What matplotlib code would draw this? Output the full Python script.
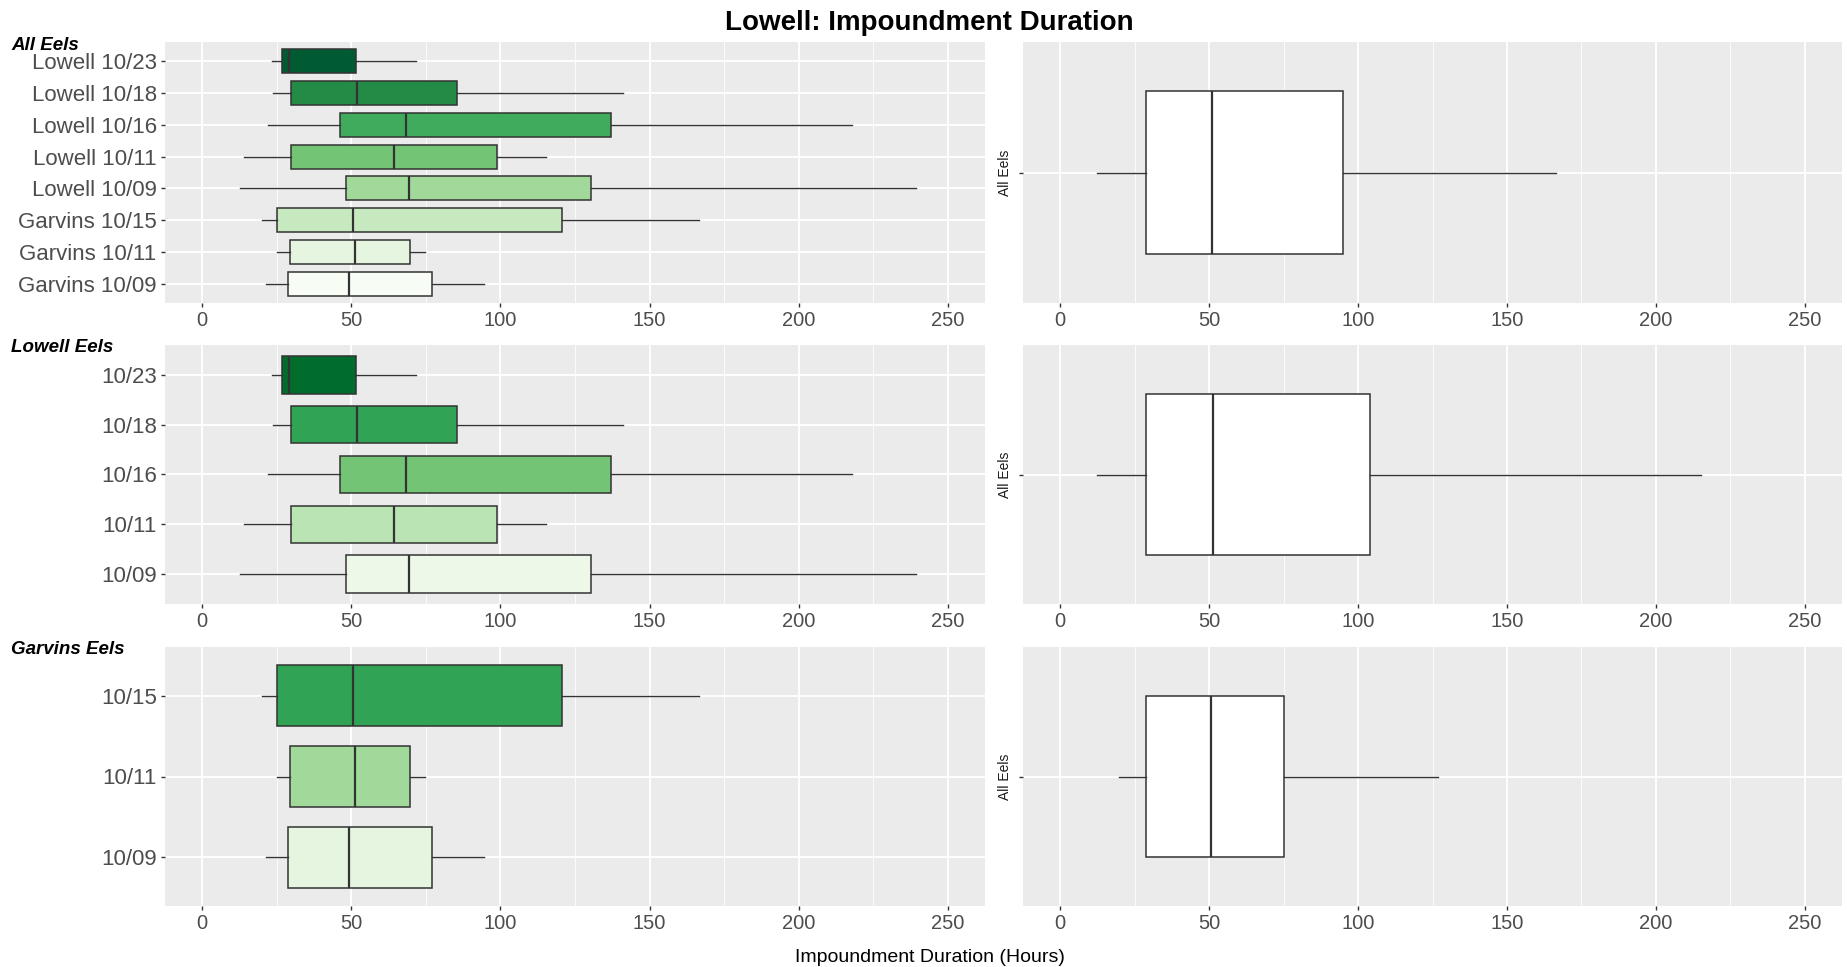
import matplotlib
matplotlib.use("Agg")
import matplotlib.pyplot as plt
from matplotlib.ticker import MultipleLocator

plt.rcParams["font.family"] = ["Liberation Sans", "DejaVu Sans"]

# ---- data: five-number summaries (lower whisker, Q1, median, Q3, upper whisker), hours ----
lowell_dates = ["10/09", "10/11", "10/16", "10/18", "10/23"]
lowell_wlo = [12.7, 14.0, 22.2, 23.7, 23.3]
lowell_q1 = [48.1, 29.7, 46.2, 29.7, 26.9]
lowell_med = [69.3, 64.2, 68.2, 51.9, 29.0]
lowell_q3 = [130.3, 99.0, 137.1, 85.4, 51.5]
lowell_whi = [239.2, 115.3, 218.0, 141.1, 71.8]

garvins_dates = ["10/09", "10/11", "10/15"]
garvins_wlo = [21.4, 25.0, 19.9]
garvins_q1 = [28.8, 29.5, 25.0]
garvins_med = [49.2, 51.3, 50.4]
garvins_q3 = [76.9, 69.5, 120.8]
garvins_whi = [94.5, 74.8, 166.6]

# pooled summaries for each group
all_pooled = [12.5, 28.8, 51.1, 95.0, 166.5]
lowell_pooled = [12.2, 28.8, 51.3, 104.1, 215.3]
garvins_pooled = [19.7, 28.8, 50.6, 75.1, 126.9]
pooled_label = "All Eels"

x_ticks = [0, 50, 100, 150, 200, 250]

# ColorBrewer "Greens" palettes
greens8 = ["#F7FCF5", "#E5F5E0", "#C7E9C0", "#A1D99B", "#74C476", "#41AB5D", "#238B45", "#005A32"]
greens5 = ["#EDF8E9", "#BAE4B3", "#74C476", "#31A354", "#006D2C"]
greens3 = ["#E5F5E0", "#A1D99B", "#31A354"]

W, H = 1847, 967
fig = plt.figure(figsize=(W / 100, H / 100), dpi=100)

EDGE = "#333333"
TXT = "#4D4D4D"


def px_axes(x0, y0, x1, y1):
    return fig.add_axes([x0 / W, 1 - y1 / H, (x1 - x0) / W, (y1 - y0) / H])


def make_stats(wlo, q1, med, q3, whi):
    return [dict(whislo=a, q1=b, med=c, q3=d, whishi=e, fliers=[])
            for a, b, c, d, e in zip(wlo, q1, med, q3, whi)]


def style(ax, n, labels, ylab_size, rotate=False):
    ax.set_facecolor("#EBEBEB")
    for s in ax.spines.values():
        s.set_visible(False)
    ax.set_xlim(-12.5, 262.5)
    ax.set_ylim(0.4, n + 0.6)
    ax.xaxis.set_major_locator(MultipleLocator(50))
    ax.xaxis.set_minor_locator(MultipleLocator(25))
    ax.set_xticks(x_ticks)
    ax.set_xticklabels([str(t) for t in x_ticks])
    ax.set_yticks(range(1, n + 1))
    if rotate:
        ax.set_yticklabels(labels, rotation=90, va="center", fontsize=ylab_size, color="#1A1A1A")
    else:
        ax.set_yticklabels(labels, fontsize=ylab_size, color=TXT)
    ax.grid(which="major", color="white", linewidth=1.3)
    ax.grid(which="minor", axis="x", color="white", linewidth=0.6)
    ax.set_axisbelow(True)
    ax.tick_params(axis="x", which="major", length=3, width=1, color=EDGE,
                   labelsize=14.5, labelcolor=TXT, pad=3)
    ax.tick_params(axis="x", which="minor", length=0)
    ax.tick_params(axis="y", length=3, width=1, color=EDGE, pad=3 if not rotate else 5)


def draw_boxes(ax, stats, colors):
    bp = ax.bxp(stats, positions=range(1, len(stats) + 1), vert=False, widths=0.75,
                patch_artist=True, showcaps=False, showfliers=False,
                boxprops=dict(edgecolor=EDGE, linewidth=1.1),
                medianprops=dict(color=EDGE, linewidth=1.6),
                whiskerprops=dict(color=EDGE, linewidth=1.0))
    for patch, c in zip(bp["boxes"], colors):
        patch.set_facecolor(c)
    return bp


LX0, LX1 = 165, 985
RX0, RX1 = 1023, 1842
rows = [(42, 303), (345, 604), (647, 906)]

# ---- row 1: every release group ----
all_labels = (["Garvins " + d for d in garvins_dates] + ["Lowell " + d for d in lowell_dates])
all_stats = (make_stats(garvins_wlo, garvins_q1, garvins_med, garvins_q3, garvins_whi)
             + make_stats(lowell_wlo, lowell_q1, lowell_med, lowell_q3, lowell_whi))
ax = px_axes(LX0, rows[0][0], LX1, rows[0][1])
draw_boxes(ax, all_stats, greens8)
style(ax, len(all_labels), all_labels, 16)

ax = px_axes(RX0, rows[0][0], RX1, rows[0][1])
draw_boxes(ax, make_stats(*[[v] for v in all_pooled]), ["white"])
style(ax, 1, [pooled_label], 10, rotate=True)

# ---- row 2: Lowell releases ----
ax = px_axes(LX0, rows[1][0], LX1, rows[1][1])
draw_boxes(ax, make_stats(lowell_wlo, lowell_q1, lowell_med, lowell_q3, lowell_whi), greens5)
style(ax, len(lowell_dates), lowell_dates, 16)

ax = px_axes(RX0, rows[1][0], RX1, rows[1][1])
draw_boxes(ax, make_stats(*[[v] for v in lowell_pooled]), ["white"])
style(ax, 1, [pooled_label], 10, rotate=True)

# ---- row 3: Garvins releases ----
ax = px_axes(LX0, rows[2][0], LX1, rows[2][1])
draw_boxes(ax, make_stats(garvins_wlo, garvins_q1, garvins_med, garvins_q3, garvins_whi), greens3)
style(ax, len(garvins_dates), garvins_dates, 16)

ax = px_axes(RX0, rows[2][0], RX1, rows[2][1])
draw_boxes(ax, make_stats(*[[v] for v in garvins_pooled]), ["white"])
style(ax, 1, [pooled_label], 10, rotate=True)

# ---- row headings, title, axis label ----
for text, y in [("All Eels", 45), ("Lowell Eels", 348), ("Garvins Eels", 649)]:
    fig.text(11 / W, 1 - y / H, text, fontsize=13.5, fontweight="bold", fontstyle="italic",
             ha="left", va="center", color="black")

fig.text(929 / W, 1 - 23 / H, "Lowell: Impoundment Duration", fontsize=20,
         fontweight="bold", ha="center", va="center")
fig.text(930 / W, 1 - 957 / H, "Impoundment Duration (Hours)", fontsize=14,
         ha="center", va="center")

fig.savefig("out.png", dpi=100)
